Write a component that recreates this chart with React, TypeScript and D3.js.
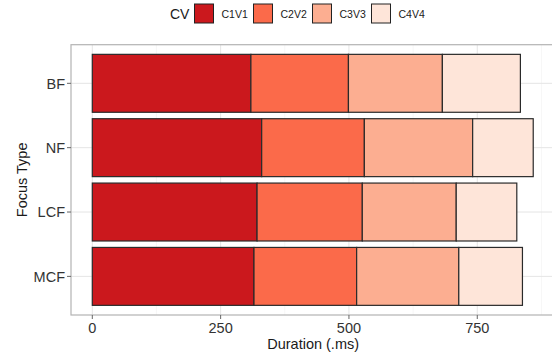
import React from "react";
import * as d3 from "d3";

const categories = ["BF", "NF", "LCF", "MCF"];
const seriesNames = ["C1V1", "C2V2", "C3V3", "C4V4"];
const c1v1 = [309, 330, 321, 315];
const c2v2 = [190, 200, 205, 200];
const c3v3 = [183, 211, 183, 199];
const c4v4 = [152, 118, 118, 124];
const colors = ["#CB181D", "#FB6A4A", "#FCAE91", "#FEE5D9"];
const xTicks = [0, 250, 500, 750];
const xMinor = [125, 375, 625, 875];

const W = 552;
const H = 358;
const FONT = "'Liberation Sans', Arial, sans-serif";

export default function App() {
  const series = [c1v1, c2v2, c3v3, c4v4];
  const rows = categories.map((c, i) => {
    const o: any = { cat: c };
    seriesNames.forEach((s, j) => (o[s] = series[j][i]));
    return o;
  });
  const stacked = d3.stack().keys(seriesNames)(rows);
  const maxV = d3.max(rows, (r: any) => seriesNames.reduce((a, s) => a + r[s], 0)) as number;

  const left = 71;
  const top = 44.7;
  const bottom = 315;
  const pxPerUnit = 0.5133;
  const x0 = 92.3;
  const domainMin = -0.05 * maxV;
  const domainMax = maxV * 1.05;
  const x = d3
    .scaleLinear()
    .domain([domainMin, domainMax])
    .range([x0 + domainMin * pxPerUnit, x0 + domainMax * pxPerUnit]);
  const right = x(domainMax);

  const step = (bottom - top) / (categories.length - 1 + 1.2);
  const y = d3
    .scalePoint()
    .domain(categories)
    .range([top + 0.6 * step, bottom - 0.6 * step]);
  const center = (c: string) => y(c) as number;
  const barH = 0.9 * step;

  const legendKeys = [194.5, 253.5, 312.5, 371.5];

  return (
    <svg width={W} height={H} style={{ position: "absolute", left: 0, top: 0 }} fontFamily={FONT}>
      <rect width={W} height={H} fill="#fff" />
      {/* legend */}
      <text x={170} y={19} fontSize={14} fill="#1a1a1a">CV</text>
      {seriesNames.map((s, i) => (
        <g key={s}>
          <rect x={legendKeys[i]} y={4} width={19} height={19} fill={colors[i]} stroke="#222" strokeWidth={1} />
          <text x={legendKeys[i] + 27} y={17.5} fontSize={10.5} fill="#1a1a1a">{s}</text>
        </g>
      ))}
      {/* grid */}
      <g>
        {xMinor.map((t) => (
          <line key={"m" + t} x1={x(t)} x2={x(t)} y1={top} y2={bottom} stroke="#F2F2F2" strokeWidth={0.6} />
        ))}
        {xTicks.map((t) => (
          <line key={"M" + t} x1={x(t)} x2={x(t)} y1={top} y2={bottom} stroke="#E5E5E5" strokeWidth={1} />
        ))}
        {categories.map((c) => (
          <line key={c} x1={left} x2={right} y1={center(c)} y2={center(c)} stroke="#E5E5E5" strokeWidth={1} />
        ))}
      </g>
      {/* bars */}
      {stacked.map((layer, j) =>
        layer.map((d: any, i: number) => (
          <rect
            key={j + "-" + i}
            x={x(d[0])}
            y={center(categories[i]) - barH / 2}
            width={x(d[1]) - x(d[0])}
            height={barH}
            fill={colors[j]}
            stroke="#2a2a2a"
            strokeWidth={1.2}
          />
        ))
      )}
      {/* panel border */}
      <rect x={left} y={top} width={right - left} height={bottom - top} fill="none" stroke="#B3B3B3" strokeWidth={1.2} />
      {/* y axis */}
      {categories.map((c) => (
        <g key={"y" + c}>
          <line x1={left - 4} x2={left} y1={center(c)} y2={center(c)} stroke="#666" strokeWidth={1} />
          <text x={left - 6} y={center(c)} dy="0.36em" textAnchor="end" fontSize={14.5} fill="#333">{c}</text>
        </g>
      ))}
      {/* x axis */}
      {xTicks.map((t) => (
        <g key={"x" + t}>
          <line x1={x(t)} x2={x(t)} y1={bottom} y2={bottom + 4} stroke="#666" strokeWidth={1} />
          <text x={x(t)} y={332.5} textAnchor="middle" fontSize={14.5} fill="#333">{t}</text>
        </g>
      ))}
      <text x={(left + right) / 2} y={349} textAnchor="middle" fontSize={14.5} fill="#1a1a1a">Duration (.ms)</text>
      <text transform={`translate(26.5,${(top + bottom) / 2}) rotate(-90)`} textAnchor="middle" fontSize={14.5} fill="#1a1a1a">Focus Type</text>
    </svg>
  );
}
